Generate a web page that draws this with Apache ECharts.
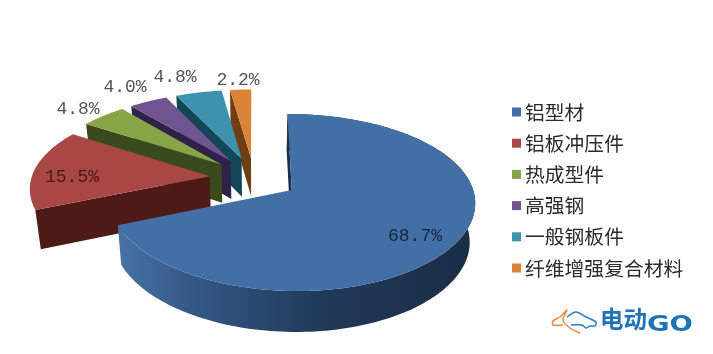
<!DOCTYPE html>
<html>
<head>
<meta charset="utf-8">
<style>
	html,body{margin:0;padding:0;background:#fff;}
	#main{width:713px;height:354px;}
</style>
<script src="https://cdn.jsdelivr.net/npm/echarts@6/dist/echarts.min.js"></script>
</head>
<body>
<div id="main"></div>
<script>
var categories = ['铝型材','铝板冲压件','热成型件','高强钢','一般钢板件','纤维增强复合材料'];
var shares = [68.7,15.5,4.8,4.0,4.8,2.2];
var tickLabels = ['68.7%','15.5%','4.8%','4.0%','4.8%','2.2%'];

// slice colours, separate from the values
var topColors = ['#426fa6','#a84744','#87a447','#6f548f','#3d93ad','#db8437'];
var wallColors = ['#1b2f4a','#4e1a18','#3b4a1d','#30214a','#134656','#6e3f12'];
var labelColors = ['#14263f','#4a1818','#555','#555','#555','#555'];
var labelPos = [[415,236],[72,177],[78,109],[125,87],[175,77],[238,80]];

// hand fitted projection of the tilted pie
var view = {cx:254,cy:178.1,rx:178.3,ry:83.4,kx:0.123,ky:0.14,explode:0.25,depth:38.5,shrink:0.975};

var total = 0;
for (var i = 0; i < shares.length; i++){
	total += shares[i];
}

function project(X,Y){
	var w = 1 + view.ky * Y;
	return [view.cx + view.rx * X / (1 + view.kx * Y), view.cy - view.ry * Y / w, w];
}

function down(p){
	// same point on the bottom face of the pie
	return [view.cx + (p[0] - view.cx) * view.shrink, p[1] + view.depth / Math.pow(p[2],0.35)];
}

function sliceShape(index){
	var start = 0;
	for (var i = 0; i < index; i++){
		start += shares[i];
	}
	var a0 = start / total * Math.PI * 2;
	var a1 = (start + shares[index]) / total * Math.PI * 2;
	var mid = (a0 + a1) / 2;
	var ox = view.explode * Math.sin(mid);
	var oy = view.explode * Math.cos(mid);
	var rim = [];
	var steps = Math.max(6,Math.round((a1 - a0) * 40));
	for (var s = 0; s <= steps; s++){
		var a = a0 + (a1 - a0) * s / steps;
		rim.push(project(ox + Math.sin(a),oy + Math.cos(a)));
	}
	return {apex:project(ox,oy),rim:rim};
}

function xy(p){
	return [p[0],p[1]];
}

function renderSlice(params){
	var index = params.seriesIndex;
	var shape = sliceShape(index);
	var rim = shape.rim;
	var apex = shape.apex;
	var children = [];

	// curved wall only shows on the big slice
	if (index == 0){
		var outer = [];
		for (var i = 0; i < rim.length; i++){
			outer.push(xy(rim[i]));
		}
		for (var j = rim.length - 1; j >= 0; j--){
			outer.push(down(rim[j]));
		}
		children.push({
			type:'polygon',
			shape:{points:outer},
			style:{
				fill:new echarts.graphic.LinearGradient(1,0,0,0,[
					{offset:0,color:'#1a2c45'},
					{offset:0.45,color:'#213a5a'},
					{offset:0.8,color:'#345987'},
					{offset:1,color:'#4873a6'}
				])
			}
		});
	}

	// radial wall on the starting edge
	children.push({
		type:'polygon',
		shape:{points:[xy(apex),xy(rim[0]),down(rim[0]),down(apex)]},
		style:{fill:wallColors[index]}
	});

	var topFace = [xy(apex)];
	for (var n = 0; n < rim.length; n++){
		topFace.push(xy(rim[n]));
	}
	children.push({type:'polygon',shape:{points:topFace},style:{fill:topColors[index]}});

	children.push({
		type:'text',
		x:labelPos[index][0],
		y:labelPos[index][1],
		z2:10,
		style:{
			text:tickLabels[index],
			fill:labelColors[index],
			font:'18px "Liberation Mono"',
			align:'center',
			verticalAlign:'middle'
		}
	});

	return {type:'group',children:children};
}

var seriesList = [];
for (var c = 0; c < categories.length; c++){
	seriesList.push({
		name:categories[c],
		type:'custom',
		coordinateSystem:'none',
		silent:true,
		animation:false,
		z:10 - c,
		itemStyle:{color:topColors[c]},
		renderItem:renderSlice,
		data:[shares[c]]
	});
}

var myChart = echarts.init(document.getElementById('main'));

var option = {
	animation:false,
	backgroundColor:'#fff',
	color:topColors,
	legend:{
		orient:'vertical',
		left:512,
		top:102,
		padding:0,
		itemWidth:9,
		itemHeight:9,
		itemGap:11.2,
		icon:'rect',
		selectedMode:false,
		textStyle:{
			fontFamily:'"Noto Sans CJK SC"',
			fontSize:19.8,
			lineHeight:20,
			color:'#2b2b2b',
			padding:[0,0,0,-1]
		},
		data:categories
	},
	graphic:[
		// logo, car outline then the wordmark
		{
			type:'polyline',
			shape:{points:[[571,325],[582,325],[586,328],[590,326],[595,326],[596,322],[586,317],[576,312],[567,317]],smooth:0.3},
			style:{fill:'none',stroke:'#2a7fc0',lineWidth:1.5}
		},
		{
			type:'polyline',
			shape:{points:[[563,325],[553,325],[553,321],[560,317],[567,310],[563,320],[570,328],[580,333]],smooth:0.3},
			style:{fill:'none',stroke:'#e8894a',lineWidth:1.5}
		},
		{
			type:'text',
			left:600,
			top:307,
			style:{
				text:'电动',
				fill:'#1f73b7',
				font:'bold 23.5px "Noto Sans CJK SC"'
			}
		},
		{
			type:'text',
			x:647,
			y:314,
			scaleX:1.25,
			style:{
				text:'GO',
				fill:'#1f73b7',
				font:'bold 22px "DejaVu Sans"'
			}
		}
	],
	series:seriesList
};

myChart.setOption(option);
</script>
</body>
</html>
